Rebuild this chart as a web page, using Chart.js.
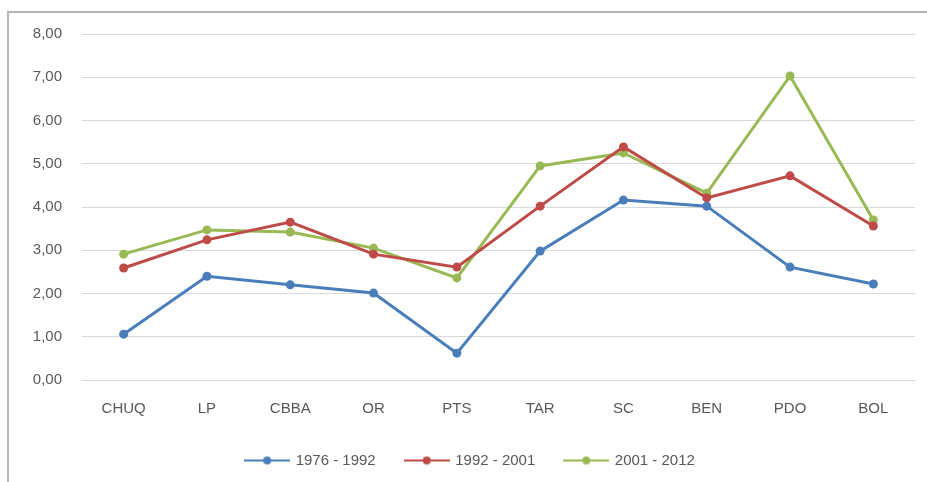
<!DOCTYPE html>
<html>
<head>
<meta charset="utf-8">
<script src="https://cdn.jsdelivr.net/npm/chart.js@4"></script>
<style>
  body { margin: 0; background: #fff; }
  #wrap { position: relative; width: 927px; height: 482px; }
  #frame { position: absolute; left: 7px; top: 11px; right: 0; bottom: 0;
           border-left: 2px solid #b4b4b4; border-top: 2px solid #b4b4b4; }
  canvas { position: absolute; left: 0; top: 0; }
</style>
</head>
<body>
<div id="wrap">
  <div id="frame"></div>
  <canvas id="lineChart" width="927" height="482"></canvas>
</div>
<script>
var regions = ['CHUQ', 'LP', 'CBBA', 'OR', 'PTS', 'TAR', 'SC', 'BEN', 'PDO', 'BOL'];
var seriesNames = ['1976 - 1992', '1992 - 2001', '2001 - 2012'];
var rate7692 = [1.06, 2.40, 2.20, 2.01, 0.62, 2.98, 4.16, 4.02, 2.61, 2.22];
var rate9201 = [2.59, 3.24, 3.65, 2.91, 2.61, 4.02, 5.39, 4.21, 4.72, 3.56];
var rate0112 = [2.91, 3.47, 3.42, 3.05, 2.36, 4.95, 5.25, 4.32, 7.03, 3.70];
var colors = ['#4a7ebb', '#be4b48', '#98b954'];

// legend marker: short line with a dot in the middle, like the original
function legendMarker(color) {
    var c = document.createElement('canvas');
    c.width = 46; c.height = 12;
    var g = c.getContext('2d');
    g.strokeStyle = color;
    g.lineWidth = 2;
    g.beginPath();
    g.moveTo(0, 6); g.lineTo(46, 6);
    g.stroke();
    g.fillStyle = color;
    g.beginPath();
    g.arc(23, 6, 4, 0, Math.PI * 2);
    g.fill();
    return c;
}

var allData = [rate7692, rate9201, rate0112];
var datasets = allData.map(function (values, i) {
    return {
        label: seriesNames[i],
        data: values,
        borderColor: colors[i],
        backgroundColor: colors[i],
        pointBackgroundColor: colors[i],
        pointBorderColor: colors[i],
        borderWidth: 3,
        pointRadius: 4.5,
        pointBorderWidth: 0,
        tension: 0
    };
});

var font = { family: 'Liberation Sans', size: 15 };

var ctx = document.getElementById('lineChart').getContext('2d');
new Chart(ctx, {
    type: 'line',
    data: { labels: regions, datasets: datasets },
    options: {
        responsive: false,
        animation: false,
        layout: { padding: { left: 26, right: 12, top: 34, bottom: 4 } },
        scales: {
            x: {
                offset: true,
                grid: { display: false, drawTicks: false },
                border: { color: '#d9d9d9' },
                ticks: { color: '#595959', padding: 20, font: font },
                afterFit: function (scale) { scale.height = 43; }
            },
            y: {
                min: 0, max: 8,
                grid: { color: '#d9d9d9', drawTicks: false },
                border: { display: false },
                ticks: {
                    stepSize: 1,
                    color: '#595959',
                    padding: 20,
                    font: font,
                    callback: function (v) { return v.toFixed(2).replace('.', ','); }
                },
                afterFit: function (scale) { scale.width = 56; }
            }
        },
        plugins: {
            legend: {
                position: 'bottom',
                labels: {
                    usePointStyle: true,
                    pointStyleWidth: 42,
                    padding: 30,
                    color: '#595959',
                    font: font,
                    generateLabels: function (chart) {
                        return chart.data.datasets.map(function (ds, i) {
                            return {
                                text: ds.label,
                                pointStyle: legendMarker(colors[i]),
                                fillStyle: colors[i],
                                strokeStyle: colors[i],
                                lineWidth: 0,
                                fontColor: '#595959',
                                datasetIndex: i
                            };
                        });
                    }
                }
            },
            tooltip: { enabled: false }
        }
    }
});
</script>
</body>
</html>
